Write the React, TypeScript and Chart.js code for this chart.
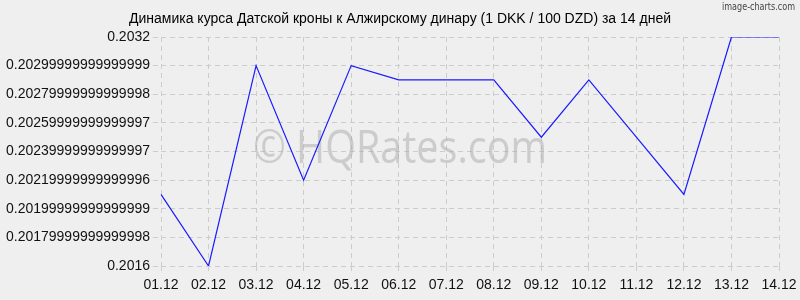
import React, { useEffect, useRef } from "react";
import { Chart, registerables } from "chart.js";

Chart.register(...registerables);

const categories = ["01.12", "02.12", "03.12", "04.12", "05.12", "06.12", "07.12", "08.12", "09.12", "10.12", "11.12", "12.12", "13.12", "14.12"];
const rates = [0.2021, 0.2016, 0.203, 0.2022, 0.203, 0.2029, 0.2029, 0.2029, 0.2025, 0.2029, 0.2025, 0.2021, 0.2032, 0.2032];
const yTickValues = [0.2016, 0.2018, 0.202, 0.2022, 0.2024, 0.2026, 0.2028, 0.203, 0.2032];
const yTickLabels = ["0.2016", "0.20179999999999998", "0.20199999999999999", "0.20219999999999996", "0.20239999999999997", "0.20259999999999997", "0.20279999999999998", "0.20299999999999999", "0.2032"];
const titleText = "Динамика курса Датской кроны к Алжирскому динару (1 DKK / 100 DZD) за 14 дней";
const watermarkText = "© HQRates.com";
const brandText = "image-charts.com";

function fitText(ctx: any, text: string, x: number, y: number, w: number) {
  const m = ctx.measureText(text).width;
  ctx.save();
  ctx.translate(x, y);
  ctx.scale(w / m, 1);
  ctx.fillText(text, 0, 0);
  ctx.restore();
}

const decorPlugin = {
  id: "decor",
  beforeDraw(chart: any) {
    const { ctx, width, height } = chart;
    ctx.save();
    ctx.fillStyle = "#efefef";
    ctx.fillRect(0, 0, width, height);
    ctx.fillStyle = "#000";
    ctx.font = "14px 'Liberation Sans', Arial, sans-serif";
    ctx.textAlign = "center";
    ctx.textBaseline = "middle";
    ctx.fillText(titleText, 400, 19);
    ctx.fillStyle = "#444";
    ctx.font = "11px 'DejaVu Sans Condensed', 'DejaVu Sans', sans-serif";
    ctx.textAlign = "left";
    fitText(ctx, brandText, 722, 7, 73);
    ctx.restore();
  },
  beforeDatasetsDraw(chart: any) {
    const { ctx } = chart;
    ctx.save();
    ctx.fillStyle = "rgba(170,170,170,0.5)";
    ctx.font = "45px 'Open Sans', sans-serif";
    ctx.textAlign = "left";
    ctx.textBaseline = "alphabetic";
    fitText(ctx, watermarkText, 253, 163, 294);
    ctx.restore();
  },
};

export default function App() {
  const ref = useRef<HTMLCanvasElement>(null);
  useEffect(() => {
    document.body.style.margin = "0";
    const chart = new Chart(ref.current!, {
      type: "line",
      data: {
        labels: categories,
        datasets: [
          {
            data: rates,
            borderColor: "#1a1aff",
            borderWidth: 1.2,
            pointRadius: 0,
            tension: 0,
            fill: false,
          },
        ],
      },
      options: {
        animation: false,
        responsive: false,
        events: [],
        layout: { padding: { left: 0, right: 21, top: 37, bottom: 0 } },
        plugins: { legend: { display: false }, title: { display: false }, tooltip: { enabled: false } },
        scales: {
          x: {
            offset: false,
            grid: { color: "#cccccc", tickLength: 8, tickBorderDash: [5, 4], drawTicks: true },
            border: { display: false, dash: [5, 4] },
            ticks: { color: "#111", font: { size: 14, family: "'Liberation Sans', Arial, sans-serif" }, padding: 3, maxRotation: 0, autoSkip: false },
            afterFit(scale: any) {
              scale.height = 34;
            },
          },
          y: {
            min: 0.2016,
            max: 0.2032,
            grid: { color: "#cccccc", tickLength: 8, tickBorderDash: [5, 4], drawTicks: true },
            border: { display: false, dash: [5, 4] },
            afterBuildTicks(scale: any) {
              scale.ticks = yTickValues.map((v) => ({ value: v }));
            },
            ticks: {
              color: "#111",
              font: { size: 14, family: "'Liberation Sans', Arial, sans-serif" },
              padding: 3,
              callback: (_v: any, i: number) => yTickLabels[i],
            },
            afterFit(scale: any) {
              scale.width = 161;
            },
          },
        },
      },
      plugins: [decorPlugin],
    });
    return () => chart.destroy();
  }, []);
  return (
    <div style={{ position: "absolute", left: 0, top: 0, width: 800, height: 300, background: "#efefef" }}>
      <canvas ref={ref} width={800} height={300} style={{ width: 800, height: 300, display: "block" }} />
    </div>
  );
}
